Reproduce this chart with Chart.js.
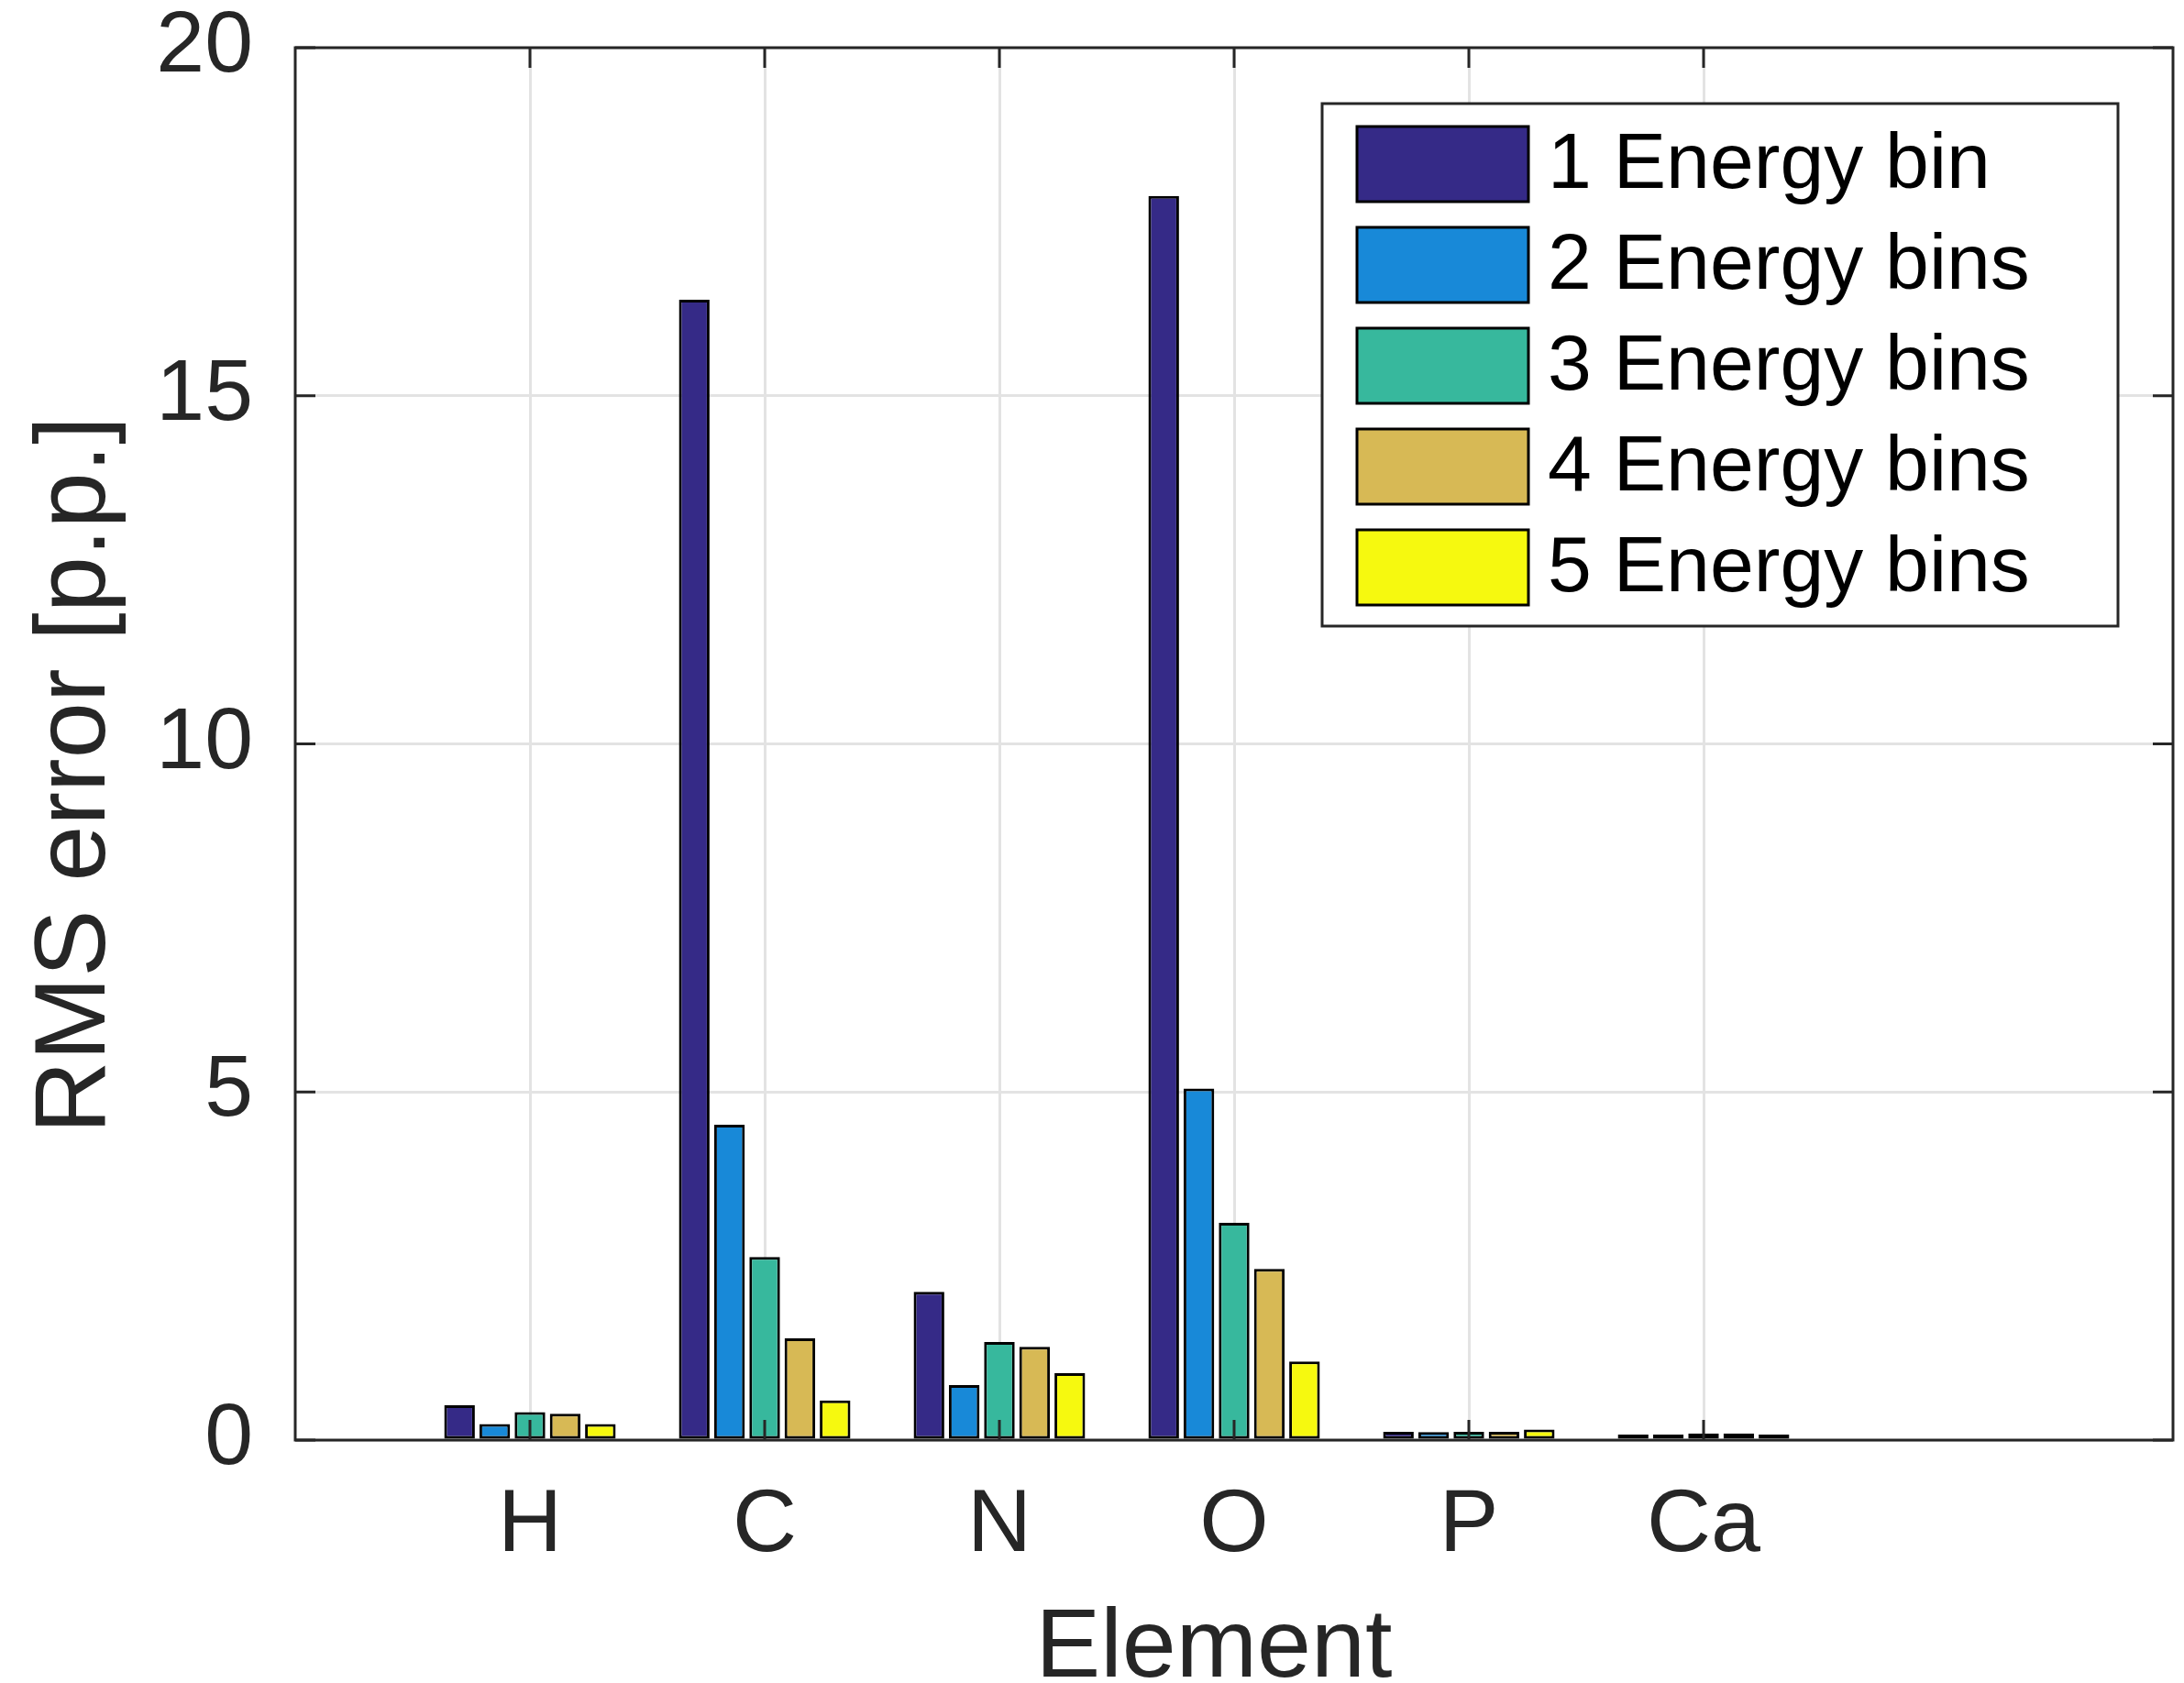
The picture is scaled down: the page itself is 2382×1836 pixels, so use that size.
<!DOCTYPE html>
<html>
<head>
<meta charset="utf-8">
<script src="https://cdn.jsdelivr.net/npm/chart.js@4/dist/chart.umd.min.js"></script>
<style>
  body { margin: 0; background: #fff; }
  canvas { display: block; }
</style>
</head>
<body>
<canvas id="bar-chart" width="2382" height="1836"></canvas>
<script>
const elements = ["H", "C", "N", "O", "P", "Ca"];

const bins_1 = [0.50, 16.38, 2.13, 17.87, 0.12, 0.08];
const bins_2 = [0.23, 4.53, 0.79, 5.05, 0.115, 0.08];
const bins_3 = [0.40, 2.63, 1.41, 3.12, 0.12, 0.095];
const bins_4 = [0.38, 1.46, 1.34, 2.46, 0.12, 0.095];
const bins_5 = [0.23, 0.57, 0.96, 1.13, 0.15, 0.08];

const series_names = ["1 Energy bin", "2 Energy bins", "3 Energy bins", "4 Energy bins", "5 Energy bins"];
const series_colors = ["#352a87", "#1889d8", "#37b89d", "#d7b955", "#f6f90f"];

const y_ticks = [0, 5, 10, 15, 20];

const x_title = "Element";
const y_title = "RMS error [p.p.]";

// x runs 0..8 like the original, elements sit at 1..6
const labels = ["", ...elements, "", ""];
function pad(values) {
  return [null, ...values, null, null];
}

const series = [bins_1, bins_2, bins_3, bins_4, bins_5];

const bar_data = {
  labels: labels,
  datasets: series.map((values, i) => ({
    label: series_names[i],
    data: pad(values),
    backgroundColor: series_colors[i],
    borderColor: "#000000",
    borderWidth: 3,
    borderSkipped: false,
    categoryPercentage: 0.75,
    barPercentage: 0.87,
  })),
};

const axisColor = "#262626";
const fontFamily = "'Liberation Sans', Arial, sans-serif";

// box around the axes + inward tick marks
const framePlugin = {
  id: "frame",
  afterDatasetsDraw(chart) {
    const { ctx, chartArea: a, scales } = chart;
    const tl = 22;
    ctx.save();
    ctx.strokeStyle = axisColor;
    ctx.lineWidth = 3;
    ctx.strokeRect(a.left, a.top, a.right - a.left, a.bottom - a.top);
    ctx.beginPath();
    y_ticks.forEach((v) => {
      const y = scales.y.getPixelForValue(v);
      ctx.moveTo(a.left, y); ctx.lineTo(a.left + tl, y);
      ctx.moveTo(a.right, y); ctx.lineTo(a.right - tl, y);
    });
    elements.forEach((e, i) => {
      const x = scales.x.getPixelForValue(i + 1);
      ctx.moveTo(x, a.bottom); ctx.lineTo(x, a.bottom - tl);
      ctx.moveTo(x, a.top); ctx.lineTo(x, a.top + tl);
    });
    ctx.stroke();
    ctx.restore();
  },
};

// axis titles, placed a bit off-centre the way matlab put them
const titlePlugin = {
  id: "axisTitles",
  afterDraw(chart) {
    const { ctx, chartArea: a } = chart;
    ctx.save();
    ctx.fillStyle = axisColor;
    ctx.textAlign = "center";
    ctx.textBaseline = "middle";
    ctx.font = "106px " + fontFamily;
    ctx.fillText(x_title, (a.left + a.right) / 2 - 22, 1800);
    ctx.translate(84, (a.top + a.bottom) / 2 + 34);
    ctx.rotate(-Math.PI / 2);
    ctx.font = "110px " + fontFamily;
    ctx.fillText(y_title, 0, 0);
    ctx.restore();
  },
};

// legend box in the top right, drawn like the matlab one
const legendPlugin = {
  id: "boxLegend",
  afterDraw(chart) {
    const { ctx, chartArea: a } = chart;
    const boxW = 868, boxH = 570;
    const x0 = a.right - 60 - boxW;
    const y0 = a.top + 61;
    ctx.save();
    ctx.fillStyle = "#ffffff";
    ctx.fillRect(x0, y0, boxW, boxH);
    ctx.strokeStyle = axisColor;
    ctx.lineWidth = 3;
    ctx.strokeRect(x0, y0, boxW, boxH);
    ctx.font = "86px " + fontFamily;
    ctx.textBaseline = "middle";
    ctx.textAlign = "left";
    chart.data.datasets.forEach((ds, i) => {
      const cy = y0 + 66 + i * 110;
      ctx.fillStyle = ds.backgroundColor;
      ctx.fillRect(x0 + 38, cy - 41, 187, 82);
      ctx.strokeStyle = "#000";
      ctx.lineWidth = 3;
      ctx.strokeRect(x0 + 38, cy - 41, 187, 82);
      ctx.fillStyle = "#000";
      ctx.fillText(ds.label, x0 + 246, cy + 2);
    });
    ctx.restore();
  },
};

const bar_config = {
  type: "bar",
  data: bar_data,
  options: {
    responsive: false,
    animation: false,
    layout: { padding: { left: 0, right: 12, top: 52, bottom: 0 } },
    plugins: {
      legend: { display: false },
      tooltip: { enabled: false },
    },
    scales: {
      x: {
        offset: false,
        afterFit(scale) {
          scale.height = 265;
          scale.paddingLeft = 0;
          scale.paddingRight = 0;
        },
        grid: {
          offset: false,
          drawTicks: false,
          lineWidth: 3,
          color: (c) => (c.index >= 1 && c.index <= 6 ? "#e3e3e3" : "rgba(0,0,0,0)"),
        },
        border: { display: false },
        ticks: {
          padding: 36,
          color: axisColor,
          autoSkip: false,
          maxRotation: 0,
          font: { family: fontFamily, size: 97 },
        },
      },
      y: {
        min: 0,
        max: 20,
        afterFit(scale) {
          scale.width = 322;
          scale.paddingTop = 0;
          scale.paddingBottom = 0;
        },
        grid: { drawTicks: false, lineWidth: 3, color: "#e3e3e3" },
        border: { display: false },
        ticks: {
          stepSize: 5,
          padding: 46,
          color: axisColor,
          font: { family: fontFamily, size: 95 },
        },
      },
    },
  },
  plugins: [framePlugin, legendPlugin, titlePlugin],
};

const ctx = document.getElementById("bar-chart").getContext("2d");
const barChart = new Chart(ctx, bar_config);
</script>
</body>
</html>
